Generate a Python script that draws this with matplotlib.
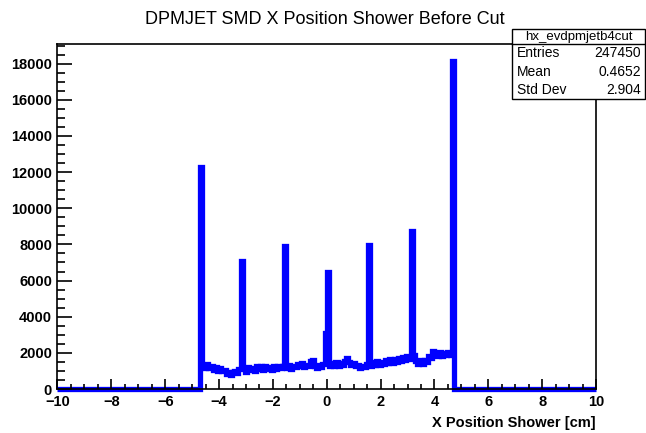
import matplotlib
matplotlib.use("Agg")
import matplotlib.pyplot as plt
import numpy as np
from matplotlib.patches import Rectangle
from matplotlib.ticker import MultipleLocator

plt.rcParams['font.family'] = ['Liberation Sans', 'DejaVu Sans']

# Histogram setup: 250 bins from -10 to 10 cm
n_bins = 250
x_lo, x_hi = -10.0, 10.0
first_bin = 66  # first non-empty bin (starts at -4.72)

# Bin contents of the non-empty region
counts_filled = [
    12300, 1350, 1150, 1400, 1150, 1250, 1050, 1200, 1000, 1150,
    1000, 1050, 850, 950, 800, 950, 1000, 900, 1100, 7100,
    1150, 950, 1200, 1050, 1150, 1000, 1250, 1100, 1300, 1050,
    1250, 1100, 1200, 1050, 1250, 1100, 1300, 1150, 1250, 7900,
    1150, 1350, 1100, 1300, 1200, 1400, 1250, 1450, 1200, 1350,
    1250, 1550, 1600, 1300, 1150, 1350, 1200, 1400, 3100, 6500,
    1250, 1450, 1300, 1500, 1250, 1450, 1350, 1550, 1700, 1500,
    1350, 1450, 1250, 1350, 1150, 1300, 1200, 1400, 7950, 1300,
    1500, 1350, 1550, 1350, 1500, 1400, 1600, 1450, 1650, 1450,
    1650, 1500, 1700, 1550, 1750, 1600, 1800, 1650, 8750, 1900,
    1550, 1400, 1600, 1400, 1600, 1500, 1800, 1700, 2100, 1900,
    1800, 2050, 1850, 2000, 1900, 2050, 1900, 18150,
]

hist_name = "hx_evdpmjetb4cut"
stats_labels = ["Entries", "Mean", "Std Dev"]
stats_values = ["247450", "0.4652", "2.904"]

edges = np.linspace(x_lo, x_hi, n_bins + 1)
counts = np.zeros(n_bins)
counts[first_bin:first_bin + len(counts_filled)] = counts_filled

fig = plt.figure(figsize=(6.46, 4.33), dpi=100)
ax = fig.add_axes([0.089, 0.1016, 0.8336, 0.7966])

ax.stairs(counts, edges, color='#0000ff', linewidth=3.8, clip_on=False,
          joinstyle='miter', capstyle='butt', zorder=1)

ax.set_xlim(x_lo, x_hi)
ax.set_ylim(0, 19080)

ax.xaxis.set_major_locator(MultipleLocator(2))
ax.xaxis.set_minor_locator(MultipleLocator(0.5))
ax.yaxis.set_major_locator(MultipleLocator(2000))
ax.yaxis.set_minor_locator(MultipleLocator(500))

ax.tick_params(axis='x', which='major', direction='in', length=7, width=1.2, pad=4)
ax.tick_params(axis='x', which='minor', direction='in', length=3.5, width=1.2)
ax.tick_params(axis='y', which='major', direction='in', length=11, width=1.2, pad=4)
ax.tick_params(axis='y', which='minor', direction='in', length=5.5, width=1.2)
for lab in ax.get_xticklabels() + ax.get_yticklabels():
    lab.set_fontweight('bold')
    lab.set_fontsize(10.5)
for sp in ax.spines.values():
    sp.set_linewidth(1.2)
    sp.set_zorder(3)

ax.set_xlabel("X Position Shower [cm]", fontsize=10.5, fontweight='bold',
              loc='right', labelpad=5)

fig.text(0.503, 0.955, "DPMJET SMD X Position Shower Before Cut",
         ha='center', va='center', fontsize=13)

# Stats box, ROOT style
bx0, bx1 = 512 / 646, 645 / 646
by_top, by_bot = 1 - 29 / 433, 1 - 99 / 433
by_sep = 1 - 44 / 433
fig.patches.append(Rectangle((bx0, by_bot), bx1 - bx0, by_top - by_bot,
                             transform=fig.transFigure, facecolor='white',
                             edgecolor='black', linewidth=1.0, zorder=5))
fig.lines.append(plt.Line2D([bx0, bx1], [by_sep, by_sep], transform=fig.transFigure,
                            color='black', linewidth=1.0, zorder=6))
fig.text((bx0 + bx1) / 2, (by_top + by_sep) / 2, hist_name,
         ha='center', va='center', fontsize=9.5, zorder=7)
row_h = (by_sep - by_bot) / len(stats_labels)
for i, (lab, val) in enumerate(zip(stats_labels, stats_values)):
    yc = by_sep - (i + 0.5) * row_h
    fig.text(bx0 + 5 / 646, yc, lab, ha='left', va='center', fontsize=10, zorder=7)
    fig.text(bx1 - 4 / 646, yc, val, ha='right', va='center', fontsize=10, zorder=7)

fig.savefig("out.png", dpi=100)
